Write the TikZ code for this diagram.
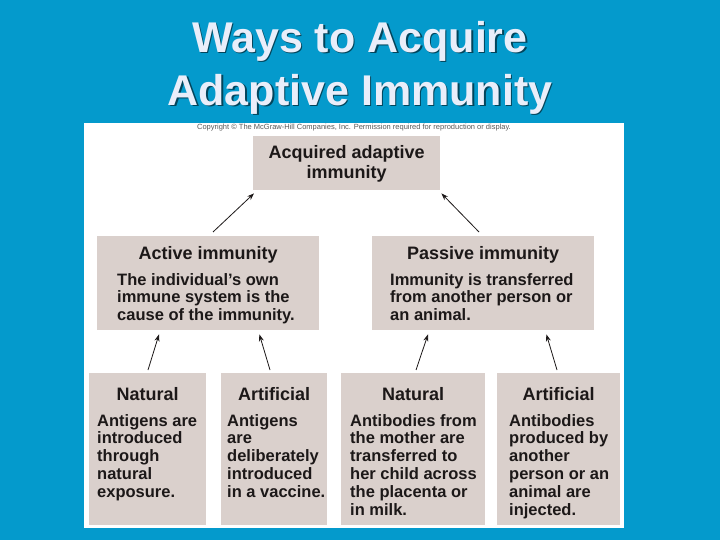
\documentclass[tikz,border=0pt]{standalone}
\usepackage{fontspec}
\setmainfont{Liberation Sans}
\usetikzlibrary{positioning,arrows.meta}
\definecolor{slideblue}{RGB}{4,154,204}
\definecolor{boxgray}{RGB}{218,208,204}
\definecolor{titlewhite}{RGB}{233,238,250}
\definecolor{inkdark}{RGB}{28,24,24}

\begin{document}
\begin{tikzpicture}[x=1pt,y=-1pt,
box/.style={fill=boxgray,inner sep=0pt,anchor=north west},
title/.style={font=\bfseries\fontsize{43}{53}\selectfont,align=center,inner sep=0pt,anchor=north},
head/.style={font=\bfseries\fontsize{18}{20}\selectfont,inner sep=0pt,text=inkdark},
body/.style={font=\bfseries\fontsize{16.5}{17.8}\selectfont,inner sep=0pt,align=left,anchor=north west,text=inkdark},
arr/.style={-{Stealth[length=7pt,width=5pt]},line width=0.8pt,draw=inkdark}]
\useasboundingbox (0,0) rectangle (720,540);
\fill[slideblue] (0,0) rectangle (720,540);
\fill[white] (84,123) rectangle (624,528);

\node (titleshade) [title,text=black!55!slideblue] at (361.5,22.5) {Ways to Acquire\\Adaptive Immunity};
\node (title) [title,text=titlewhite] at (360,21) {Ways to Acquire\\Adaptive Immunity};
\node (copy) [font=\fontsize{7.5}{8}\selectfont,text=black!65,anchor=base,inner sep=0pt] at (354,130)
    {Copyright © The McGraw-Hill Companies, Inc. Permission required for reproduction or display.};

% boxes
\node (acq) [box,minimum width=187pt,minimum height=54pt] at (253,136) {};
\node (act) [box,minimum width=222pt,minimum height=94pt] at (97,236) {};
\node (pas) [box,minimum width=222pt,minimum height=94pt] at (372,236) {};
\node (nat1) [box,minimum width=117pt,minimum height=152pt] at (89,373) {};
\node (art1) [box,minimum width=106pt,minimum height=152pt] at (221,373) {};
\node (nat2) [box,minimum width=144pt,minimum height=152pt] at (341,373) {};
\node (art2) [box,minimum width=123pt,minimum height=152pt] at (497,373) {};

% texts
\node (acqtxt) [head,align=center,below=9.5pt of acq.north] {Acquired adaptive\\immunity};
\node (acthead) [head,below=10.5pt of act.north] {Active immunity};
\node (pashead) [head,below=10.5pt of pas.north] {Passive immunity};
\node (nat1head) [head,below=14pt of nat1.north] {Natural};
\node (art1head) [head,below=14pt of art1.north] {Artificial};
\node (nat2head) [head,below=14pt of nat2.north] {Natural};
\node (art2head) [head,below=14pt of art2.north] {Artificial};

\node (actbody) [body] at ([xshift=20pt,yshift=-37pt]act.north west)
    {The individual’s own\\immune system is the\\cause of the immunity.};
\node (pasbody) [body] at ([xshift=18pt,yshift=-37pt]pas.north west)
    {Immunity is transferred\\from another person or\\an animal.};
\node (nat1body) [body] at ([xshift=8pt,yshift=-41pt]nat1.north west)
    {Antigens are\\introduced\\through\\natural\\exposure.};
\node (art1body) [body] at ([xshift=6pt,yshift=-41pt]art1.north west)
    {Antigens\\are\\deliberately\\introduced\\in a vaccine.};
\node (nat2body) [body] at ([xshift=9pt,yshift=-41pt]nat2.north west)
    {Antibodies from\\the mother are\\transferred to\\her child across\\the placenta or\\in milk.};
\node (art2body) [body] at ([xshift=12pt,yshift=-41pt]art2.north west)
    {Antibodies\\produced by\\another\\person or an\\animal are\\injected.};

% arrows
\draw[arr] ([xshift=116pt,yshift=4pt]act.north west) -- ([xshift=1pt,yshift=-3pt]acq.south west);
\draw[arr] ([xshift=107pt,yshift=4pt]pas.north west) -- ([xshift=1pt,yshift=-3pt]acq.south east);
\draw[arr] ([xshift=59pt,yshift=3pt]nat1.north west) -- ([xshift=62pt,yshift=-4pt]act.south west);
\draw[arr] ([xshift=49pt,yshift=3pt]art1.north west) -- ([xshift=-60pt,yshift=-4pt]act.south east);
\draw[arr] ([xshift=75pt,yshift=3pt]nat2.north west) -- ([xshift=56pt,yshift=-4pt]pas.south west);
\draw[arr] ([xshift=60pt,yshift=3pt]art2.north west) -- ([xshift=-48pt,yshift=-4pt]pas.south east);
\end{tikzpicture}
\end{document}
